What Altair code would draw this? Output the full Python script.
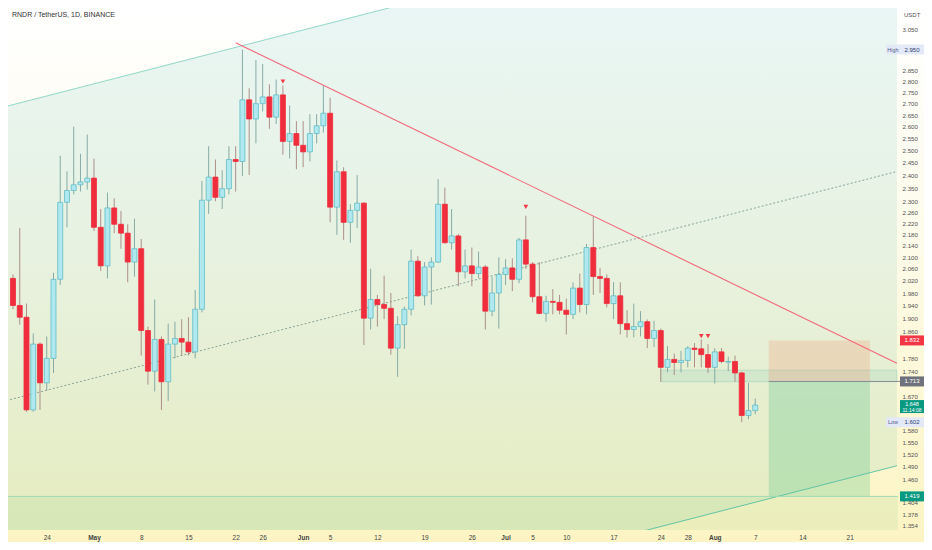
import altair as alt
import pandas as pd

# daily candles, 19 Apr - 7 Aug 2023
dates = list(pd.date_range("2023-04-19", periods=111, freq="D").strftime("%Y-%m-%d"))
open_ = [2.028, 1.940, 1.903, 1.635, 1.821, 1.709, 1.779, 2.025, 2.297, 2.342,
         2.364, 2.375, 2.390, 2.205, 2.070, 2.276, 2.216, 2.184, 2.083, 2.129,
         1.862, 1.742, 1.835, 1.712, 1.821, 1.838, 1.827, 1.798, 1.928, 2.305,
         2.394, 2.316, 2.349, 2.464, 2.456, 2.717, 2.633, 2.700, 2.730, 2.641,
         2.739, 2.538, 2.571, 2.522, 2.495, 2.571, 2.604, 2.658, 2.279, 2.415,
         2.223, 2.267, 2.294, 1.900, 1.959, 1.943, 1.931, 1.809, 1.880, 1.928,
         2.086, 1.971, 2.066, 2.083, 2.290, 2.150, 2.174, 2.050, 2.070, 2.044,
         2.066, 1.922, 1.980, 2.041, 2.063, 2.025, 2.160, 2.076, 1.968, 1.915,
         1.953, 1.950, 1.925, 1.912, 1.996, 1.943, 2.133, 2.034, 2.028, 1.946,
         1.971, 1.883, 1.865, 1.874, 1.889, 1.838, 1.862, 1.753, 1.776, 1.767,
         1.773, 1.809, 1.807, 1.790, 1.753, 1.798, 1.768, 1.770, 1.737, 1.620,
         1.633]
high = [2.041, 2.202, 1.946, 1.853, 1.826, 1.844, 2.047, 2.479, 2.417, 2.600,
        2.487, 2.567, 2.467, 2.272, 2.334, 2.312, 2.265, 2.216, 2.237, 2.163,
        1.874, 1.959, 1.844, 1.883, 1.889, 1.897, 1.903, 1.990, 2.379, 2.518,
        2.464, 2.421, 2.518, 2.518, 2.950, 2.769, 2.900, 2.881, 2.787, 2.809,
        2.782, 2.692, 2.624, 2.624, 2.654, 2.654, 2.782, 2.726, 2.460, 2.433,
        2.290, 2.402, 2.298, 2.060, 1.974, 2.037, 1.980, 1.906, 1.937, 2.126,
        2.103, 2.083, 2.099, 2.386, 2.353, 2.272, 2.181, 2.126, 2.133, 2.119,
        2.073, 2.034, 2.099, 2.093, 2.096, 2.167, 2.247, 2.083, 2.083, 1.971,
        1.993, 1.974, 1.962, 2.015, 2.044, 2.146, 2.244, 2.063, 2.041, 2.015,
        2.015, 1.925, 1.946, 1.922, 1.896, 1.892, 1.868, 1.815, 1.793, 1.801,
        1.815, 1.824, 1.835, 1.821, 1.809, 1.809, 1.784, 1.787, 1.740, 1.709,
        1.666]
low = [1.928, 1.880, 1.630, 1.630, 1.635, 1.688, 1.737, 2.006, 2.205, 2.327,
       2.338, 2.345, 2.192, 2.053, 2.028, 2.184, 2.129, 2.015, 2.034, 1.787,
       1.704, 1.685, 1.635, 1.659, 1.779, 1.787, 1.787, 1.779, 1.918, 2.254,
       2.301, 2.272, 2.327, 2.338, 2.398, 2.402, 2.530, 2.666, 2.591, 2.612,
       2.483, 2.468, 2.425, 2.433, 2.456, 2.530, 2.575, 2.223, 2.178, 2.160,
       2.150, 2.202, 1.818, 1.865, 1.874, 1.897, 1.790, 1.726, 1.807, 1.909,
       1.968, 1.940, 1.943, 2.080, 2.147, 2.126, 2.002, 2.028, 2.002, 2.028,
       1.865, 1.906, 1.868, 2.006, 1.986, 2.012, 2.060, 1.950, 1.912, 1.889,
       1.912, 1.912, 1.850, 1.897, 1.918, 1.912, 1.974, 1.980, 1.934, 1.897,
       1.850, 1.841, 1.841, 1.844, 1.809, 1.812, 1.712, 1.739, 1.731, 1.739,
       1.753, 1.753, 1.753, 1.737, 1.707, 1.765, 1.742, 1.712, 1.602, 1.610,
       1.623]
close = [1.940, 1.903, 1.635, 1.821, 1.709, 1.779, 2.025, 2.297, 2.342, 2.364,
         2.375, 2.390, 2.205, 2.070, 2.276, 2.216, 2.184, 2.083, 2.129, 1.862,
         1.742, 1.835, 1.712, 1.821, 1.838, 1.827, 1.798, 1.928, 2.305, 2.394,
         2.316, 2.349, 2.464, 2.456, 2.717, 2.633, 2.700, 2.730, 2.641, 2.739,
         2.538, 2.571, 2.522, 2.495, 2.571, 2.604, 2.658, 2.279, 2.415, 2.223,
         2.267, 2.294, 1.900, 1.959, 1.943, 1.931, 1.809, 1.880, 1.928, 2.086,
         1.971, 2.066, 2.083, 2.290, 2.150, 2.174, 2.050, 2.070, 2.044, 2.066,
         1.922, 1.980, 2.041, 2.063, 2.025, 2.160, 2.076, 1.968, 1.915, 1.953,
         1.950, 1.925, 1.912, 1.996, 1.943, 2.133, 2.034, 2.028, 1.946, 1.971,
         1.883, 1.865, 1.874, 1.889, 1.838, 1.862, 1.753, 1.776, 1.767, 1.773,
         1.809, 1.805, 1.790, 1.753, 1.798, 1.770, 1.770, 1.737, 1.620, 1.633,
         1.648]

# drawings
chan_dates = ["2023-04-18", "2023-08-28"]
chan_upper = [2.688, 3.912]
chan_lower = [1.025, 1.492]
chan_mid = [1.660, 2.416]
trend_dates = ["2023-05-22", "2023-08-28"]
trend_price = [2.983, 1.765]
zone_dates = ["2023-07-24", "2023-08-28"]
zone_top, zone_bottom = 1.745, 1.712
pos_dates = ["2023-08-09", "2023-08-24"]
stop_price, entry_price, target_price = 1.832, 1.713, 1.419
tri_dates = ["2023-05-29", "2023-07-04", "2023-07-30", "2023-07-31"]
tri_price = [2.80, 2.28, 1.845, 1.845]

y_ticks = [3.050, 2.850, 2.800, 2.750, 2.700, 2.650, 2.600, 2.550, 2.500, 2.450,
           2.400, 2.350, 2.300, 2.260, 2.220, 2.180, 2.140, 2.100, 2.060, 2.020,
           1.980, 1.940, 1.900, 1.860, 1.780, 1.740, 1.670, 1.580, 1.550, 1.520,
           1.490, 1.460, 1.404, 1.378, 1.354]
x_ticks = [(4, 24), (5, 1), (5, 8), (5, 15), (5, 22), (5, 26), (6, 1), (6, 5),
           (6, 12), (6, 19), (6, 26), (7, 1), (7, 5), (7, 10), (7, 17), (7, 24),
           (7, 28), (8, 1), (8, 7), (8, 14), (8, 21)]

tag_price = [1.832, 1.713, 1.419]
tag_text = ["1.832", "1.713", "1.419"]
tag_fill = ["#f23645", "#6f727c", "#089981"]

W, H = 890, 522
FONT = "Liberation Sans"

df = pd.DataFrame({"date": dates, "open": open_, "high": high, "low": low, "close": close})
up = df["close"] >= df["open"]
df["wick_c"] = ["#86aba6" if u else "#ad8f8a" for u in up]
df["body_c"] = ["#b0e8ef" if u else "#ef2d3d" for u in up]
df["edge_c"] = ["#62bcc6" if u else "#ef2d3d" for u in up]

xs = alt.Scale(type="utc", domain=[alt.DateTime(year=2023, month=4, date=19, utc=True),
                                   alt.DateTime(year=2023, month=8, date=27, hours=10, utc=True)])
ys = alt.Scale(type="log", domain=[1.343, 3.158])

x_axis = alt.Axis(
    values=[alt.DateTime(year=2023, month=m, date=d, utc=True) for m, d in x_ticks],
    labelExpr="utcdate(datum.value) == 1 ? utcFormat(datum.value, '%b') : utcFormat(datum.value, '%-d')",
    labelFontWeight={"condition": {"test": "utcdate(datum.value) == 1", "value": "bold"}, "value": "normal"},
    labelColor="#444", labelFontSize=6.5, labelFont=FONT, labelPadding=4,
    domain=False, ticks=False, grid=False, labelOverlap=False, zindex=1)
y_axis = alt.Axis(
    orient="right", values=y_ticks, format=".3f", labelColor="#555", labelFontSize=6.2,
    labelFont=FONT, labelPadding=4, domain=False, ticks=False, grid=False,
    labelOverlap=False, zindex=1)


def X(f):
    return alt.X(f"{f}:T", scale=xs, axis=x_axis, title=None)


def Y(f):
    return alt.Y(f"{f}:Q", scale=ys, axis=y_axis, title=None)


one = pd.DataFrame({"t": ["RNDR / TetherUS, 1D, BINANCE"]})

bg = alt.Chart(one).mark_rect(clip=False, color=alt.Gradient(
    gradient="linear", x1=0, x2=0, y1=0, y2=1,
    stops=[alt.GradientStop(color="#ffffff", offset=0),
           alt.GradientStop(color="#fdfbe9", offset=0.45),
           alt.GradientStop(color="#fcf4c3", offset=1)])).encode(
    x=alt.value(0), x2=alt.value(W + 26), y=alt.value(0), y2=alt.value(H + 12))

chan = pd.DataFrame({"date": chan_dates, "upper": chan_upper, "lower": chan_lower, "mid": chan_mid})
chan_fill = alt.Chart(chan).mark_area(color="#26a69a", opacity=0.1, clip=True).encode(
    x=X("date"), y=Y("upper"), y2="lower")
chan_up = alt.Chart(chan).mark_line(color="#86d3c2", strokeWidth=0.9, clip=True).encode(
    x=X("date"), y=Y("upper"))
chan_lo = alt.Chart(chan).mark_line(color="#56bfa3", strokeWidth=0.9, clip=True).encode(
    x=X("date"), y=Y("lower"))
chan_md = alt.Chart(chan).mark_line(color="#6e8f87", strokeWidth=0.8, strokeDash=[2, 2], clip=True).encode(
    x=X("date"), y=Y("mid"))

base_band = alt.Chart(pd.DataFrame({"price": [target_price]}))
bottom_band = base_band.mark_rect(color="#66bb6a", opacity=0.11, clip=True).encode(
    x=alt.value(0), x2=alt.value(W), y=Y("price"), y2=alt.value(H))
bottom_line = base_band.mark_rule(color="#9fdab2", strokeWidth=1, clip=True).encode(
    x=alt.value(0), x2=alt.value(W + 2), y=Y("price"))

zone = pd.DataFrame({"date": [zone_dates[0]], "date2": [zone_dates[1]],
                     "top": [zone_top], "bottom": [zone_bottom]})
zone_rect = alt.Chart(zone).mark_rect(fill="#26a69a", fillOpacity=0.1, stroke="#26a69a",
                                      strokeOpacity=0.25, strokeWidth=0.8, clip=True).encode(
    x=X("date"), x2="date2", y=Y("top"), y2="bottom")

pos = pd.DataFrame({"date": [pos_dates[0]] * 2, "date2": [pos_dates[1]] * 2,
                    "p1": [stop_price, entry_price], "p2": [entry_price, target_price],
                    "c": ["#f4845f", "#2bb673"]})
pos_rect = alt.Chart(pos).mark_rect(opacity=0.22, clip=True).encode(
    x=X("date"), x2="date2", y=Y("p1"), y2="p2", color=alt.Color("c:N", scale=None))
entry = alt.Chart(pd.DataFrame({"date": [pos_dates[0]], "price": [entry_price]})).mark_rule(
    color="#8a8f96", strokeWidth=1, clip=False).encode(
    x=X("date"), x2=alt.value(W + 2), y=Y("price"))

trend = alt.Chart(pd.DataFrame({"date": trend_dates, "price": trend_price})).mark_line(
    color="#f2697a", strokeWidth=1.1, clip=True).encode(x=X("date"), y=Y("price"))

wick = alt.Chart(df).mark_rule(strokeWidth=1, clip=True).encode(
    x=X("date"), y=Y("low"), y2="high", color=alt.Color("wick_c:N", scale=None))
body = alt.Chart(df).mark_bar(size=5, strokeWidth=0.8, clip=True).encode(
    x=X("date"), y=Y("open"), y2="close",
    fill=alt.Fill("body_c:N", scale=None), stroke=alt.Stroke("edge_c:N", scale=None))

tri = alt.Chart(pd.DataFrame({"date": tri_dates, "price": tri_price})).mark_point(
    shape="triangle-down", filled=True, size=22, color="#f23645", opacity=1, clip=True).encode(
    x=X("date"), y=Y("price"))

tags = pd.DataFrame({"price": tag_price, "label": tag_text, "fill": tag_fill})
tag_box = alt.Chart(tags).mark_rect(yOffset=-5, y2Offset=5).encode(
    x=alt.value(W + 2), x2=alt.value(W + 26), y=Y("price"), y2="price",
    color=alt.Color("fill:N", scale=None))
tag_txt = alt.Chart(tags).mark_text(fontSize=6, font=FONT, color="white").encode(
    x=alt.value(W + 14), y=Y("price"), text="label:N")

last = pd.DataFrame({"price": [1.648], "l1": ["1.648"], "l2": ["11:14:08"]})
last_box = alt.Chart(last).mark_rect(yOffset=-5, y2Offset=8, color="#089981").encode(
    x=alt.value(W + 2), x2=alt.value(W + 26), y=Y("price"), y2="price")
last_t1 = alt.Chart(last).mark_text(fontSize=5.5, font=FONT, color="white", dy=-1.5).encode(
    x=alt.value(W + 14), y=Y("price"), text="l1:N")
last_t2 = alt.Chart(last).mark_text(fontSize=5, font=FONT, color="white", dy=4.5).encode(
    x=alt.value(W + 14), y=Y("price"), text="l2:N")

hl = pd.DataFrame({"price": [2.950, 1.602], "name": ["High", "Low"], "val": ["2.950", "1.602"]})
hl_box = alt.Chart(hl).mark_rect(yOffset=-5, y2Offset=5, color="#e3e9f7").encode(
    x=alt.value(W - 12), x2=alt.value(W + 26), y=Y("price"), y2="price")
hl_name = alt.Chart(hl).mark_text(fontSize=5.5, font=FONT, color="#53618a").encode(
    x=alt.value(W - 5), y=Y("price"), text="name:N")
hl_val = alt.Chart(hl).mark_text(fontSize=6, font=FONT, color="#2d3d6e").encode(
    x=alt.value(W + 14), y=Y("price"), text="val:N")

title = alt.Chart(one).mark_text(align="left", baseline="middle", fontSize=7, font=FONT,
                                 color="#333").encode(
    x=alt.value(4), y=alt.value(7), text="t:N")
usdt = alt.Chart(one).mark_text(align="left", baseline="middle", fontSize=6, font=FONT,
                                color="#555").encode(
    x=alt.value(W + 6), y=alt.value(7), text=alt.value("USDT"))

chart = alt.layer(
    bg, chan_fill, bottom_band, zone_rect, pos_rect, chan_up, chan_lo, chan_md,
    bottom_line, entry, trend, wick, body, tri,
    tag_box, tag_txt, last_box, last_t1, last_t2, hl_box, hl_name, hl_val, title, usdt
).properties(
    width=W, height=H, background="#fdfbe8",
    padding={"left": 0, "top": 0, "right": 0, "bottom": 0}
).configure_view(stroke=None)

chart.save("out.html", embed_options={"renderer": "svg", "actions": False})
